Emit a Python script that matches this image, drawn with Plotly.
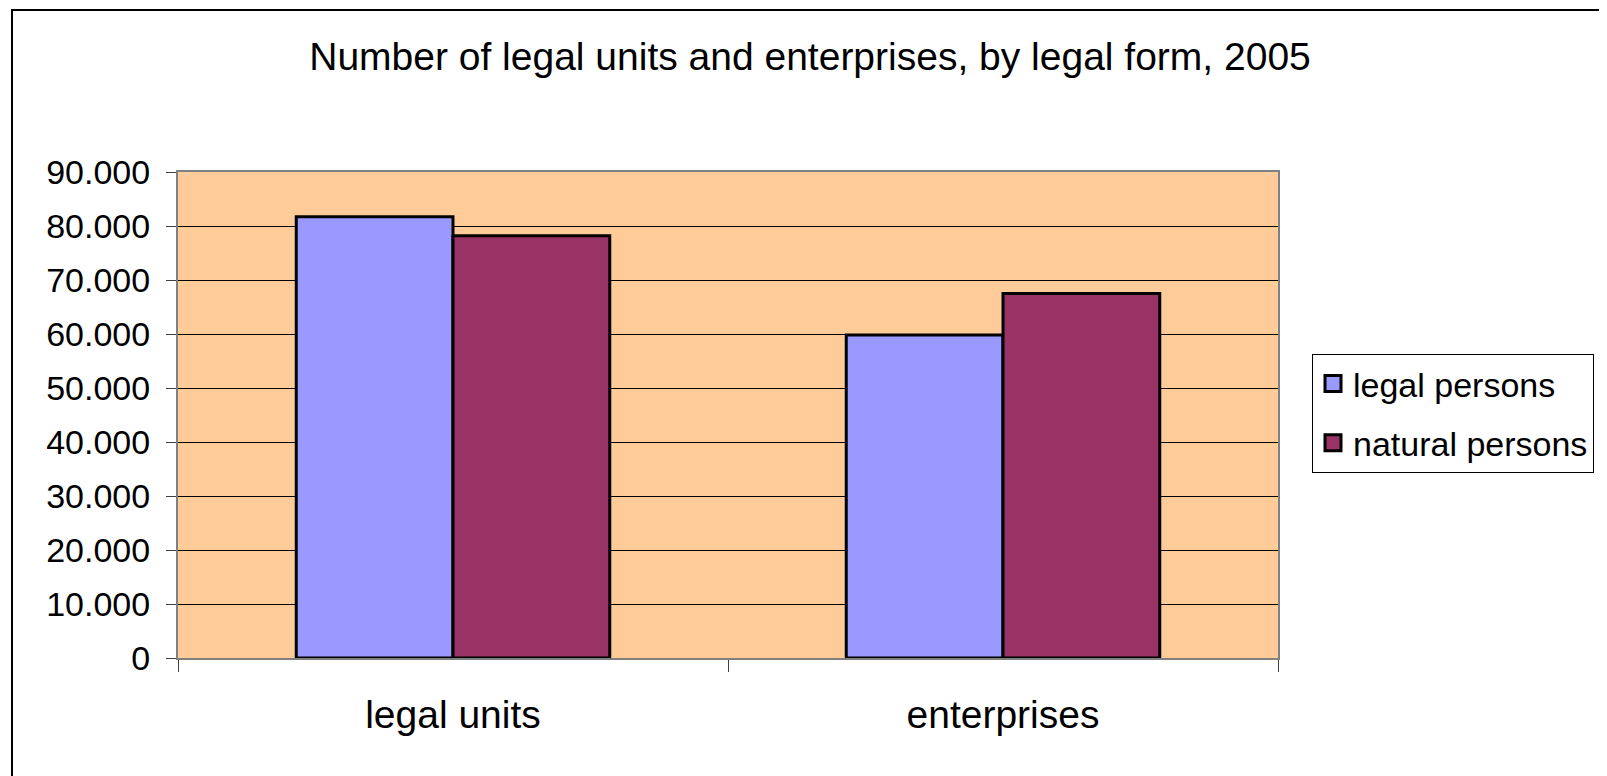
import plotly.graph_objects as go

categories = ["legal units", "enterprises"]
legal_persons = [81700, 59800]
natural_persons = [78200, 67500]
series_names = ["legal persons", "natural persons"]
series_colors = ["#9999FF", "#993366"]
y_ticks = [0, 10000, 20000, 30000, 40000, 50000, 60000, 70000, 80000, 90000]

OFF = 8  # browser body margin
W, H = 1607 - OFF, 776 - OFF
L, R, T, B = 178 - OFF, 1278 - OFF, 172 - OFF, 658 - OFF

font = "Liberation Sans, Arial, sans-serif"

pw = R - L
ph = B - T
def px_x(x):
    return (x - OFF - L) / pw
def px_y(y):
    return (B - (y - OFF)) / ph

fig = go.Figure()
for name, vals, col in zip(series_names, [legal_persons, natural_persons], series_colors):
    fig.add_trace(go.Bar(name=name, x=categories, y=vals, showlegend=False,
                         marker=dict(color=col, line=dict(color="black", width=3))))
for i, (name, col) in enumerate(zip(series_names, series_colors)):
    fig.add_trace(go.Scatter(name=name, x=[None], y=[None], mode="markers",
                             legendgroup="g%d" % i, showlegend=True,
                             marker=dict(symbol="square", size=17, color=col,
                                         line=dict(color="black", width=3))))

fig.update_layout(
    width=W, height=H,
    margin=dict(l=L, r=W - R, t=T, b=H - B, autoexpand=False),
    paper_bgcolor="white",
    plot_bgcolor="#FFCC99",
    barmode="group",
    bargap=0.43,
    bargroupgap=0,
    separators=",.",
    font=dict(family=font, size=33, color="black"),
    title=dict(text="Number of legal units and enterprises, by legal form, 2005",
               x=(810 - OFF) / W, xanchor="center", y=1 - (56 - OFF) / H, yanchor="middle",
               font=dict(family=font, size=39, color="black")),
    showlegend=True,
    legend=dict(x=px_x(1312), xanchor="left", y=px_y(354), yanchor="top",
                bordercolor="black", borderwidth=1, bgcolor="white",
                font=dict(family=font, size=34, color="black"),
                traceorder="grouped", tracegroupgap=12, itemsizing="trace"),
    xaxis=dict(showgrid=False, tickson="boundaries", ticks="outside", ticklen=12,
               tickcolor="#404040", showline=True, linecolor="#808080", linewidth=2,
               mirror=True, ticklabelstandoff=21,
               tickfont=dict(family=font, size=39, color="black")),
    yaxis=dict(range=[0, 90000], tickvals=y_ticks, tickformat=",d",
               showgrid=True, gridcolor="black", gridwidth=1,
               ticks="outside", ticklen=10, tickcolor="#404040",
               showline=True, linecolor="#808080", linewidth=2, mirror=True,
               zeroline=False, ticklabelstandoff=9,
               tickfont=dict(family=font, size=34, color="black")),
    shapes=[dict(type="rect", xref="paper", yref="paper",
                 x0=px_x(12), x1=px_x(1700), y0=px_y(900), y1=px_y(10),
                 line=dict(color="black", width=2), fillcolor="rgba(0,0,0,0)",
                 layer="below")],
)

fig.write_html("out.html")
